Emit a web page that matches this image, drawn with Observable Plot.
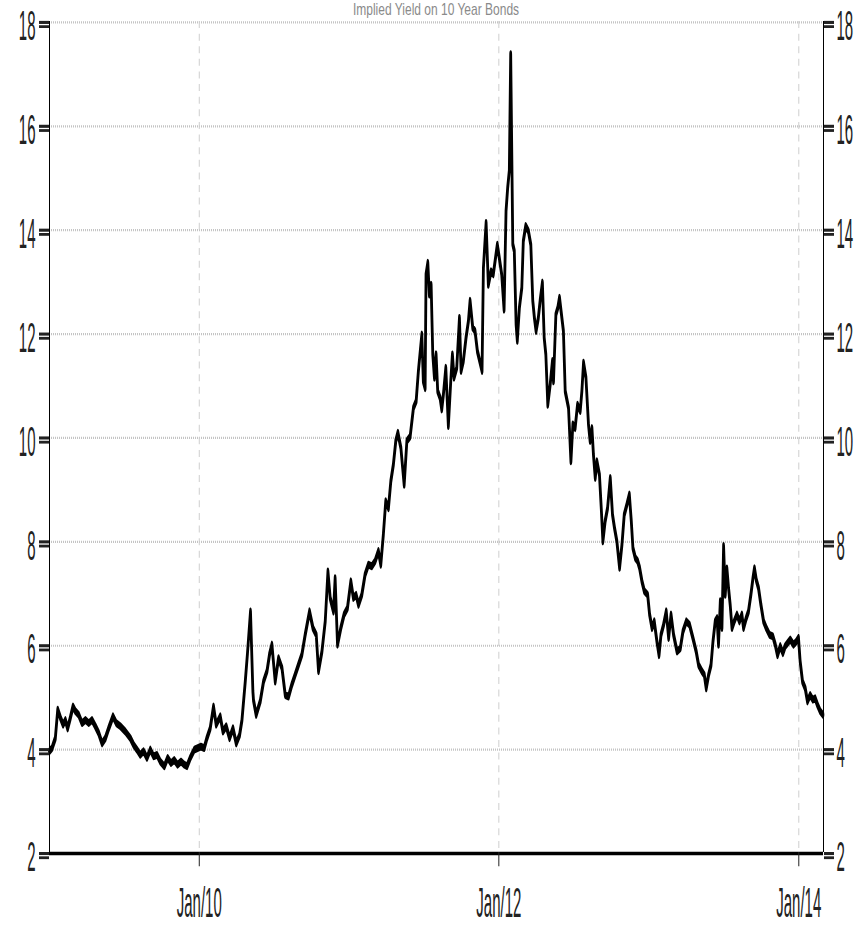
<!DOCTYPE html>
<html>
<head>
<meta charset="utf-8">
<script src="https://cdn.jsdelivr.net/npm/d3@7"></script>
<script src="https://cdn.jsdelivr.net/npm/@observablehq/plot@0.6"></script>
<style>
  html, body { margin: 0; padding: 0; background: #fff; overflow: hidden; }
  #wrap { position: relative; width: 863px; height: 925px; overflow: hidden; background: #fff; }
  #title {
    position: absolute; left: 49px; width: 774px; top: 0px;
    text-align: center; font: 12px "Liberation Sans", Arial, sans-serif; line-height: 14px;
    color: #8a8a8a; transform: scaleY(1.4); transform-origin: top center; white-space: nowrap;
  }
  #chart svg { display: block; }
</style>
</head>
<body>
<div id="wrap">
  <div id="chart"></div>
  <div id="title"></div>
</div>
<script>
// ---- data ----
const titleText = "Implied Yield on 10 Year Bonds";

// time as decimal years
const dates = [
  2009.000,2009.017,2009.039,2009.055,2009.073,2009.091,2009.106,2009.121,2009.139,2009.157,
  2009.173,2009.195,2009.217,2009.240,2009.262,2009.284,2009.306,2009.328,2009.351,2009.373,
  2009.395,2009.424,2009.446,2009.473,2009.506,2009.540,2009.562,2009.584,2009.606,2009.628,
  2009.651,2009.673,2009.695,2009.718,2009.740,2009.767,2009.789,2009.811,2009.833,2009.855,
  2009.878,2009.900,2009.918,2009.940,2009.967,2009.989,2010.011,2010.033,2010.051,2010.073,
  2010.095,2010.113,2010.140,2010.158,2010.180,2010.202,2010.225,2010.247,2010.269,2010.285,
  2010.307,2010.322,2010.342,2010.358,2010.362,2010.380,2010.407,2010.429,2010.452,2010.469,
  2010.485,2010.507,2010.529,2010.552,2010.574,2010.596,2010.618,2010.640,2010.662,2010.685,
  2010.707,2010.736,2010.759,2010.781,2010.796,2010.819,2010.841,2010.859,2010.874,2010.896,
  2010.907,2010.923,2010.945,2010.967,2010.989,2011.012,2011.029,2011.047,2011.063,2011.085,
  2011.107,2011.129,2011.152,2011.174,2011.196,2011.212,2011.229,2011.245,2011.263,2011.279,
  2011.296,2011.312,2011.326,2011.346,2011.368,2011.386,2011.408,
  2011.430,2011.448,2011.463,2011.486,2011.496,2011.508,2011.514,2011.526,2011.536,2011.548,
  2011.559,2011.570,2011.581,2011.592,2011.608,2011.619,2011.630,2011.646,2011.663,2011.679,
  2011.690,2011.701,2011.719,2011.737,2011.748,2011.763,2011.781,2011.797,2011.808,2011.826,
  2011.841,2011.857,2011.875,2011.888,2011.897,2011.915,2011.930,2011.948,2011.963,2011.990,
  2012.003,2012.019,2012.035,2012.048,2012.059,2012.070,2012.079,2012.093,2012.103,2012.115,
  2012.123,2012.137,2012.153,2012.163,2012.179,2012.197,2012.213,2012.226,2012.237,2012.248,
  2012.263,2012.275,2012.290,2012.302,2012.313,2012.326,2012.342,2012.357,2012.364,2012.380,
  2012.393,2012.404,
  2012.430,2012.442,2012.464,2012.480,2012.493,2012.508,2012.524,2012.542,2012.553,2012.564,
  2012.580,2012.597,2012.608,2012.620,2012.630,2012.642,2012.653,2012.670,2012.682,2012.693,
  2012.708,2012.724,2012.742,2012.757,2012.770,2012.786,2012.804,2012.820,2012.835,2012.853,
  2012.869,2012.882,2012.893,2012.909,2012.924,2012.937,2012.953,2012.969,2012.991,2013.004,
  2013.020,2013.035,2013.053,2013.067,2013.080,2013.097,2013.115,2013.131,2013.147,2013.164,
  2013.187,2013.209,2013.227,2013.249,2013.271,2013.293,2013.315,2013.331,2013.353,2013.369,
  2013.382,
  2013.398,2013.414,2013.427,2013.442,2013.454,2013.464,2013.476,2013.487,2013.498,2013.509,
  2013.520,2013.531,2013.542,2013.554,2013.569,2013.587,2013.604,2013.620,2013.631,2013.649,
  2013.664,2013.680,2013.694,2013.704,2013.716,2013.731,2013.747,2013.765,2013.783,2013.805,
  2013.827,2013.843,2013.858,2013.876,2013.894,2013.909,2013.925,2013.943,2013.965,2013.983,
  2013.998,2014.009,2014.025,2014.043,2014.058,2014.076,2014.094,2014.109,2014.125,2014.143,
  2014.161
];

const yields = [
  3.97,4.03,4.22,4.77,4.61,4.48,4.57,4.41,4.61,4.83,
  4.74,4.67,4.51,4.57,4.51,4.57,4.45,4.32,4.12,4.22,
  4.41,4.64,4.51,4.45,4.35,4.22,4.09,4.00,3.90,3.97,
  3.84,4.00,3.87,3.90,3.77,3.68,3.84,3.74,3.80,3.71,
  3.77,3.71,3.68,3.84,4.00,4.03,4.06,4.03,4.22,4.41,
  4.83,4.48,4.64,4.35,4.45,4.22,4.41,4.12,4.28,4.57,
  5.31,5.86,6.66,5.12,4.95,4.67,4.93,5.31,5.51,5.83,
  6.02,5.31,5.76,5.57,5.05,5.02,5.25,5.44,5.63,5.83,
  6.21,6.66,6.34,6.21,5.51,5.89,6.47,7.43,6.92,6.66,
  7.30,6.02,6.34,6.60,6.72,7.24,6.92,6.98,6.79,6.98,
  7.37,7.56,7.53,7.63,7.82,7.56,8.14,8.78,8.65,9.17,
  9.49,9.94,10.10,9.81,9.10,9.94,10.03,
  10.58,10.71,11.29,11.99,11.09,10.96,13.15,13.37,12.76,12.95,
  11.61,11.16,11.61,10.90,10.77,10.55,10.84,11.35,10.23,11.09,
  11.61,11.16,11.35,12.31,11.29,11.48,11.93,12.25,12.64,12.12,
  12.06,11.67,11.45,11.29,13.27,14.14,12.95,13.21,13.15,13.72,
  13.47,13.15,12.47,14.37,14.82,15.15,17.39,13.73,13.60,12.19,
  11.87,12.51,12.89,13.79,14.08,13.98,13.72,12.64,12.31,12.06,
  12.31,12.64,12.99,11.93,11.61,10.64,11.03,11.48,11.09,12.38,
  12.51,12.70,
  12.06,10.90,10.58,9.55,10.26,10.19,10.64,10.52,10.90,11.45,
  11.16,10.26,9.94,10.19,9.68,9.23,9.55,9.29,8.65,8.01,
  8.40,8.65,9.23,8.52,8.27,8.01,7.50,7.95,8.52,8.72,
  8.91,8.40,7.88,7.69,7.63,7.50,7.24,7.05,6.98,6.60,
  6.34,6.47,6.08,5.82,6.21,6.40,6.66,6.15,6.60,6.21,
  5.89,5.95,6.28,6.47,6.40,6.15,5.89,5.63,5.51,5.44,
  5.18,
  5.44,5.63,6.08,6.47,6.53,6.02,6.86,6.34,7.92,6.98,
  7.49,7.11,6.79,6.34,6.47,6.60,6.47,6.60,6.34,6.53,
  6.66,6.98,7.30,7.49,7.27,7.11,6.79,6.47,6.34,6.21,
  6.18,6.02,5.82,5.99,5.86,5.99,6.05,6.12,6.02,6.08,
  6.15,5.70,5.31,5.18,4.93,5.05,4.96,4.99,4.86,4.74,
  4.67
];

const xDomainYears = [2009.0, 2014.165];
const xTickYears = [2010, 2012, 2014];
const xTickLabels = ["Jan/10", "Jan/12", "Jan/14"];
const yDomain = [2, 18];
const yTicks = [2, 4, 6, 8, 10, 12, 14, 16, 18];
const yGrid = [4, 6, 8, 10, 12, 14, 16, 18];

// ---- helpers ----
function toDate(t) {
  const y = Math.floor(t);
  const a = Date.UTC(y, 0, 1), b = Date.UTC(y + 1, 0, 1);
  return new Date(a + (t - y) * (b - a));
}
const series = dates.map((t, i) => ({date: toDate(t), value: yields[i]}));
const xTickDates = xTickYears.map(toDate);
const fmtX = d => {
  const i = xTickDates.findIndex(t => +t === +d);
  return i >= 0 ? xTickLabels[i] : "";
};

// The reference is a chart stretched vertically; draw in a short frame and stretch it.
const W = 863, SH = 925, H = 330;

const chart = Plot.plot({
  width: W,
  height: H,
  marginTop: 7.5,
  marginBottom: 26,
  marginLeft: 49,
  marginRight: 40,
  style: {fontFamily: "'Liberation Sans', Arial, sans-serif", fontSize: "15px", color: "#222", background: "#fff"},
  x: {type: "utc", domain: xDomainYears.map(toDate), label: null, axis: null},
  y: {domain: yDomain, label: null, axis: null},
  marks: [
    Plot.ruleY(yGrid, {stroke: "#c4c4c4", strokeWidth: 0.8, strokeDasharray: "1,1"}),
    Plot.ruleX(xTickDates, {stroke: "#cfcfcf", strokeWidth: 1, strokeDasharray: "2.5,2"}),
    Plot.line(series, {x: "date", y: "value", stroke: "#000", strokeWidth: 2.8, strokeLinejoin: "round", strokeLinecap: "round"}),
    Plot.ruleX(xDomainYears.map(toDate), {stroke: "#000", strokeWidth: 1}),
    Plot.ruleY([yDomain[0]], {stroke: "#000", strokeWidth: 1.3}),
    Plot.axisY({anchor: "left", ticks: yTicks, tickSize: 10, tickPadding: 4, strokeWidth: 1.1, label: null, text: null}),
    Plot.axisY({anchor: "left", ticks: yTicks, tickSize: 10, tickPadding: 4, dy: 1.5, tick: null, label: null}),
    Plot.axisY({anchor: "right", ticks: yTicks, tickSize: 10, tickPadding: 3, strokeWidth: 1.1, label: null, text: null}),
    Plot.axisY({anchor: "right", ticks: yTicks, tickSize: 10, tickPadding: 3, dy: 1.5, tick: null, label: null}),
    Plot.axisX({ticks: xTickDates, tickFormat: fmtX, tickSize: 5, tickPadding: 7, strokeWidth: 1, label: null})
  ]
});

chart.setAttribute("preserveAspectRatio", "none");
chart.setAttribute("height", SH);
chart.style.width = W + "px";
chart.style.height = SH + "px";
chart.style.maxWidth = "none";
document.getElementById("chart").appendChild(chart);
document.getElementById("title").textContent = titleText;
</script>
</body>
</html>
